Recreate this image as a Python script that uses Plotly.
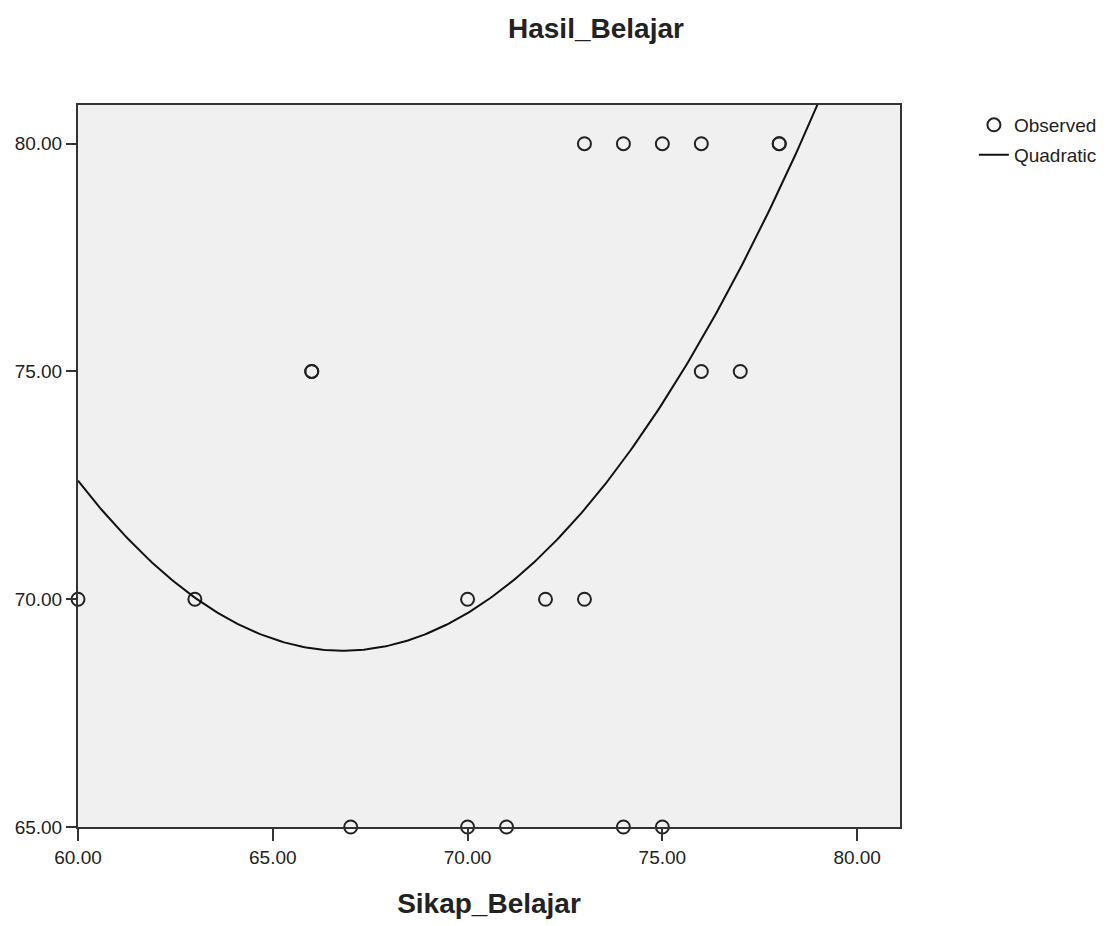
import numpy as np
import plotly.graph_objects as go

# Observed data (Sikap_Belajar, Hasil_Belajar)
sikap = [60, 63, 66, 66, 67, 70, 70, 71, 72, 73, 73, 74, 74, 75, 75, 76, 76, 77, 78, 78]
hasil = [70, 70, 75, 75, 65, 70, 65, 65, 70, 70, 80, 80, 65, 80, 65, 80, 75, 75, 80, 80]

# Quadratic fit: y = a*(x - h)^2 + k
quad_a = 0.0807
quad_h = 66.8
quad_k = 68.87

xs = np.linspace(60, 81.1, 300)
ys = quad_a * (xs - quad_h) ** 2 + quad_k

tick_vals_x = [60, 65, 70, 75, 80]
tick_vals_y = [65, 70, 75, 80]

FONT = "Liberation Sans, Arial, sans-serif"
INK = "#222222"

L, R, T, B = 78, 901, 105, 829
W, H = 1114, 926
pw, ph = R - L, B - T

def px_x(x):
    return (x - L) / pw

def px_y(y):
    return (B - y) / ph

fig = go.Figure()
fig.add_trace(go.Scatter(
    x=sikap, y=hasil, mode="markers", name="Observed", legend="legend",
    marker=dict(symbol="circle-open", size=13, color=INK, line=dict(width=2, color=INK)),
    cliponaxis=False,
))
fig.add_trace(go.Scatter(
    x=xs, y=ys, mode="lines", name="Quadratic", legend="legend2",
    line=dict(color="#111111", width=2),
))

leg_common = dict(xanchor="left", yanchor="middle", bgcolor="rgba(0,0,0,0)",
                  font=dict(size=19, family=FONT, color=INK), itemwidth=30)

fig.update_layout(
    width=W, height=H,
    paper_bgcolor="white", plot_bgcolor="#F0F0F0",
    margin=dict(l=L, r=W - R, t=T, b=H - B),
    font=dict(family=FONT, size=19, color=INK),
    showlegend=True,
    legend=dict(x=px_x(975), y=px_y(125), **leg_common),
    legend2=dict(x=px_x(975), y=px_y(155), **leg_common),
    annotations=[
        dict(text="<b>Hasil_Belajar</b>", x=px_x(597), y=px_y(28), xref="paper", yref="paper",
             xanchor="center", yanchor="middle", showarrow=False,
             font=dict(size=28, family=FONT, color=INK)),
    ],
)

fig.update_xaxes(
    range=[60, 81.1], tickvals=tick_vals_x, ticktext=[f"{v:.2f}" for v in tick_vals_x],
    showgrid=False, zeroline=False, showline=True, linecolor="#333333", linewidth=2, mirror=True,
    ticks="outside", ticklen=12, tickwidth=2, tickcolor="#333333",
    title=dict(text="<b>Sikap_Belajar</b>", font=dict(size=28, family=FONT, color=INK), standoff=27),
    tickfont=dict(size=19),
)
fig.update_yaxes(
    range=[65, 80.85], tickvals=tick_vals_y, ticktext=[f"{v:.2f}" for v in tick_vals_y],
    showgrid=False, zeroline=False, showline=True, linecolor="#333333", linewidth=2, mirror=True,
    ticks="outside", ticklen=10, tickwidth=2, tickcolor="#333333",
    tickfont=dict(size=19),
)

fig.write_html("out.html", config={"displayModeBar": False},
               post_script="document.body.style.margin='0';")
